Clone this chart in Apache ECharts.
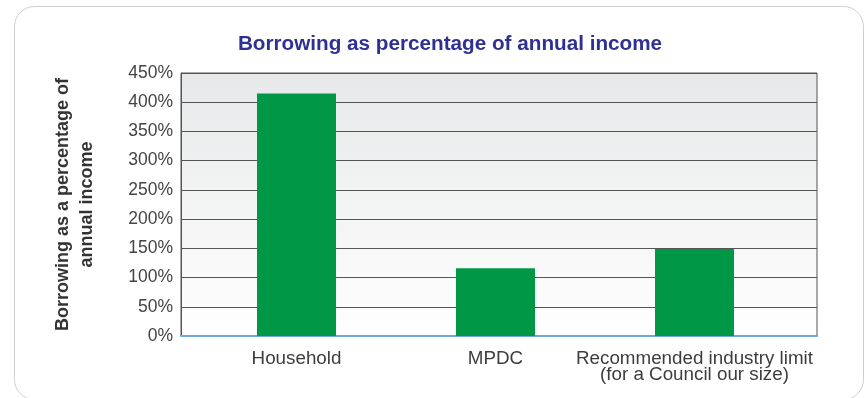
<!DOCTYPE html>
<html><head><meta charset="utf-8">
<script src="https://cdn.jsdelivr.net/npm/echarts@6/dist/echarts.min.js"></script>
<style>html,body{margin:0;padding:0;background:#fff}#c{width:865px;height:398px}</style>
</head><body><div id="c"></div>
<script>
const categories = ['Household', 'MPDC', 'Recommended industry limit\n(for a Council our size)'];
const values = [415, 116, 149];
const yTicks = [0, 50, 100, 150, 200, 250, 300, 350, 400, 450];

const FONT = 'Liberation Sans';
const yMin = yTicks[0], yMax = yTicks[yTicks.length - 1], yStep = yTicks[1] - yTicks[0];

const chart = echarts.init(document.getElementById('c'));
chart.setOption({
  animation: false,
  graphic: [{
    type: 'rect', shape: {x: 14.5, y: 6.5, width: 849, height: 393, r: 20},
    style: {fill: 'none', stroke: '#cfcfcf', lineWidth: 1}, z: -10
  }],
  title: {
    text: 'Borrowing as percentage of annual income',
    left: 445, top: 29, textAlign: 'center',
    textStyle: {fontFamily: FONT, fontSize: 20.7, fontWeight: 'bold', color: '#2e3192'}
  },
  grid: [{
    left: 181, right: 48, top: 73, bottom: 62, show: true,
    borderColor: '#555', borderWidth: 1,
    backgroundColor: {type: 'linear', x: 0, y: 0, x2: 0, y2: 1,
      colorStops: [{offset: 0, color: '#e7e8e9'}, {offset: 1, color: '#ffffff'}]}
  }, {
    left: 197, right: 71, top: 73, bottom: 62
  }],
  xAxis: [{
    gridIndex: 0, type: 'category', data: categories,
    axisLine: {lineStyle: {color: '#6fa8dc', width: 2}},
    axisTick: {show: false}, axisLabel: {show: false}, splitLine: {show: false}
  }, {
    gridIndex: 1, type: 'category', data: categories,
    axisLine: {show: false}, axisTick: {show: false},
    axisLabel: {interval: 0, fontFamily: FONT, fontSize: 18.8, color: '#3d3d3d', margin: 15, lineHeight: 16}
  }],
  yAxis: [{
    gridIndex: 0, type: 'value', min: yMin, max: yMax, interval: yStep,
    name: 'Borrowing as a percentage of\nannual income',
    nameLocation: 'middle', nameGap: 82, nameRotate: 90,
    nameTextStyle: {fontFamily: FONT, fontSize: 18, fontWeight: 'bold', color: '#333', lineHeight: 24},
    axisLine: {show: true, lineStyle: {color: '#555'}},
    axisTick: {show: false},
    axisLabel: {formatter: '{value}%', fontFamily: FONT, fontSize: 17.5, color: '#444', margin: 8},
    splitLine: {lineStyle: {color: '#555', width: 1}}
  }, {
    gridIndex: 1, type: 'value', min: yMin, max: yMax, interval: yStep,
    axisLine: {show: false}, axisTick: {show: false}, axisLabel: {show: false}, splitLine: {show: false}
  }],
  series: [{
    type: 'bar', xAxisIndex: 1, yAxisIndex: 1, data: values, barWidth: 79,
    itemStyle: {color: '#009846'}
  }]
});
</script></body></html>
